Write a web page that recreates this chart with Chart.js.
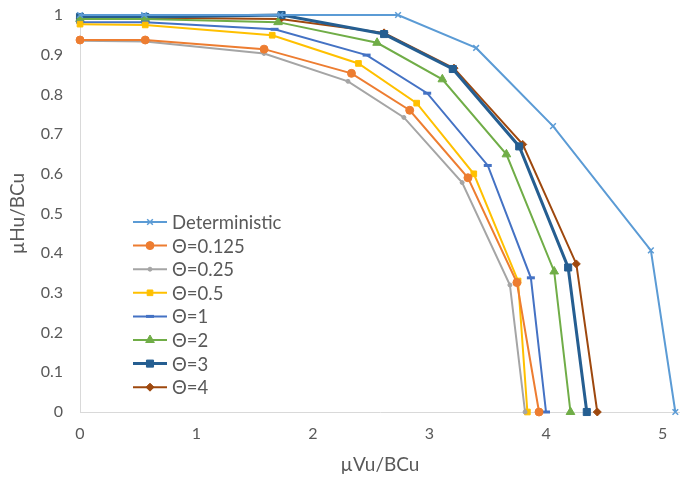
<!DOCTYPE html>
<html>
<head>
<meta charset="utf-8">
<script src="https://cdn.jsdelivr.net/npm/chart.js@4/dist/chart.umd.min.js"></script>
<style>
  html, body { margin: 0; padding: 0; background: #fff; }
  #wrap { width: 680px; height: 484px; position: relative; }
</style>
</head>
<body>
<div id="wrap"><canvas id="chart"></canvas></div>
<script>
// values
const seriesNames = ['Deterministic', 'Θ=0.125', 'Θ=0.25', 'Θ=0.5', 'Θ=1', 'Θ=2', 'Θ=3', 'Θ=4'];

const detX = [0, 0.55, 1.72, 2.73, 3.40, 4.06, 4.90, 5.11];
const detY = [1, 1, 1, 1, 0.917, 0.72, 0.407, 0];
const t0125X = [0, 0.56, 1.58, 2.33, 2.83, 3.33, 3.75, 3.94];
const t0125Y = [0.937, 0.937, 0.914, 0.853, 0.76, 0.59, 0.326, 0];
const t025X = [0, 0.56, 1.58, 2.30, 2.78, 3.28, 3.69, 3.82];
const t025Y = [0.935, 0.933, 0.903, 0.833, 0.742, 0.578, 0.32, 0];
const t05X = [0, 0.56, 1.65, 2.39, 2.89, 3.38, 3.76, 3.84];
const t05Y = [0.977, 0.975, 0.949, 0.878, 0.778, 0.60, 0.33, 0];
const t1X = [0, 0.56, 1.67, 2.46, 2.98, 3.50, 3.87, 4.00];
const t1Y = [0.982, 0.982, 0.964, 0.899, 0.803, 0.621, 0.338, 0];
const t2X = [0, 0.56, 1.70, 2.55, 3.11, 3.66, 4.07, 4.21];
const t2Y = [0.99, 0.99, 0.982, 0.93, 0.838, 0.649, 0.354, 0];
const t3X = [0, 0.56, 1.73, 2.61, 3.20, 3.77, 4.19, 4.35];
const t3Y = [0.995, 0.995, 1.0, 0.952, 0.864, 0.669, 0.364, 0];
const t4X = [0, 0.56, 1.72, 2.61, 3.21, 3.80, 4.26, 4.44];
const t4Y = [0.99, 0.993, 0.99, 0.955, 0.866, 0.674, 0.373, 0];

const xTicks = [0, 1, 2, 3, 4, 5];

const FONT = 'Lato, "Open Sans", sans-serif';
const TXT = '#595959';

function pts(xs, ys) {
    return xs.map((x, i) => ({ x: x, y: ys[i] }));
}

function series(idx, xs, ys, color, style, radius, lineW, markerBorder) {
    return {
        label: seriesNames[idx],
        data: pts(xs, ys),
        showLine: true,
        borderColor: color,
        backgroundColor: color,
        borderWidth: lineW,
        pointStyle: style,
        pointRadius: radius,
        pointBorderWidth: markerBorder,
        pointBorderColor: color,
        pointBackgroundColor: color,
        clip: false
    };
}

const datasets = [
    series(0, detX, detY, '#5B9BD5', 'crossRot', 4, 2, 1.5),
    series(1, t0125X, t0125Y, '#ED7D31', 'circle', 4, 2, 1),
    series(2, t025X, t025Y, '#A5A5A5', 'circle', 2, 2, 1),
    series(3, t05X, t05Y, '#FFC000', 'rect', 4, 2, 1),
    series(4, t1X, t1Y, '#4472C4', 'line', 4, 2, 3),
    series(5, t2X, t2Y, '#70AD47', 'triangle', 5, 2, 1),
    series(6, t3X, t3Y, '#255E91', 'rect', 5, 3, 1),
    series(7, t4X, t4Y, '#9E480E', 'rectRot', 4, 2, 1)
];

// legend drawn inside the plot, Excel style
const insideLegend = {
    id: 'insideLegend',
    afterDraw(chart) {
        const ctx = chart.ctx;
        const x0 = 133, x1 = 167, top = 222, gap = 23.6;
        ctx.save();
        ctx.font = '18.5px ' + FONT;
        ctx.textBaseline = 'middle';
        chart.data.datasets.forEach((ds, i) => {
            const y = top + i * gap;
            ctx.strokeStyle = ds.borderColor;
            ctx.fillStyle = ds.borderColor;
            ctx.lineWidth = ds.borderWidth;
            ctx.beginPath();
            ctx.moveTo(x0, y);
            ctx.lineTo(x1, y);
            ctx.stroke();
            ctx.lineWidth = ds.pointBorderWidth;
            if (Chart.helpers && Chart.helpers.drawPoint) {
                Chart.helpers.drawPoint(ctx, {
                    pointStyle: ds.pointStyle,
                    radius: ds.pointRadius,
                    rotation: 0,
                    borderWidth: ds.pointBorderWidth
                }, (x0 + x1) / 2, y);
            }
            ctx.fillStyle = TXT;
            ctx.fillText(ds.label, x1 + 5, y + 1);
        });
        ctx.restore();
    }
};

new Chart(document.getElementById('chart'), {
    type: 'scatter',
    data: { datasets: datasets },
    options: {
        responsive: true,
        maintainAspectRatio: false,
        animation: false,
        layout: {
            autoPadding: false,
            padding: { top: 15, right: 0, bottom: 0, left: 0 }
        },
        plugins: {
            legend: { display: false },
            tooltip: { enabled: false }
        },
        scales: {
            x: {
                type: 'linear',
                min: 0,
                max: 5.15,
                afterBuildTicks(scale) {
                    scale.ticks = xTicks.map(v => ({ value: v }));
                },
                afterFit(scale) {
                    scale.height = 72;
                    scale.paddingLeft = 0;
                    scale.paddingRight = 0;
                },
                grid: { display: false, drawTicks: false },
                border: { display: true, color: '#D9D9D9', width: 1 },
                ticks: {
                    color: TXT,
                    font: { family: FONT, size: 16 },
                    padding: 12,
                    maxRotation: 0
                },
                title: {
                    display: true,
                    text: 'µVu/BCu',
                    color: TXT,
                    font: { family: FONT, size: 19 },
                    padding: { top: 0, bottom: 8 }
                }
            },
            y: {
                type: 'linear',
                min: 0,
                max: 1,
                afterFit(scale) {
                    scale.width = 80;
                    scale.paddingTop = 0;
                    scale.paddingBottom = 0;
                },
                grid: { display: false, drawTicks: false },
                border: { display: true, color: '#D9D9D9', width: 1 },
                ticks: {
                    stepSize: 0.1,
                    color: TXT,
                    font: { family: FONT, size: 16 },
                    padding: 17,
                    callback: v => Math.round(v * 10) / 10
                },
                title: {
                    display: true,
                    text: 'µHu/BCu',
                    color: TXT,
                    font: { family: FONT, size: 19 },
                    padding: { top: 6, bottom: 0 }
                }
            }
        }
    },
    plugins: [insideLegend]
});
</script>
</body>
</html>
